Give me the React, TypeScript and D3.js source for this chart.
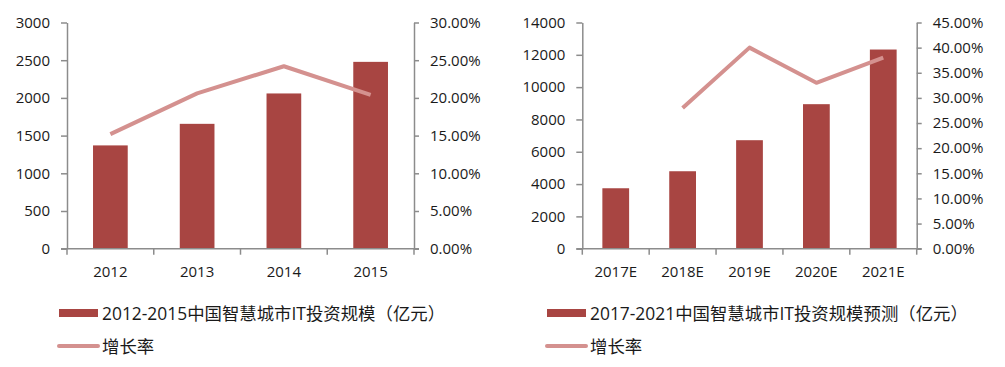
import * as d3 from "d3";
import React, { useEffect, useRef } from "react";

// left panel: 2012-2015 actuals
const years1 = ["2012", "2013", "2014", "2015"];
const scale1 = [1370, 1656, 2059, 2478];
const growth1: (number | null)[] = [15.2, 20.6, 24.2, 20.4];
const leftTicks1 = [0, 500, 1000, 1500, 2000, 2500, 3000];
const rightTicks1 = [0, 5, 10, 15, 20, 25, 30];
const legend1 = "2012-2015中国智慧城市IT投资规模（亿元）";

// right panel: 2017E-2021E forecast
const years2 = ["2017E", "2018E", "2019E", "2020E", "2021E"];
const scale2 = [3741, 4794, 6715, 8945, 12327];
const growth2: (number | null)[] = [null, 28.0, 40.0, 33.0, 38.0];
const leftTicks2 = [0, 2000, 4000, 6000, 8000, 10000, 12000, 14000];
const rightTicks2 = [0, 5, 10, 15, 20, 25, 30, 35, 40, 45];
const legend2 = "2017-2021中国智慧城市IT投资规模预测（亿元）";

const lineLabel = "增长率";

const BAR = "#A84542";
const LINE = "#D4918F";
const AXIS = "#8C8C8C";
const FONT = "'Open Sans', 'Noto Sans CJK SC', sans-serif";

interface IPanel {
  cats: string[];
  bars: number[];
  rates: (number | null)[];
  lt: number[];
  rt: number[];
  legend: string;
  x0: number;
  x1: number;
  legX: number;
}

const panels: IPanel[] = [
  { cats: years1, bars: scale1, rates: growth1, lt: leftTicks1, rt: rightTicks1, legend: legend1, x0: 67, x1: 414, legX: 59 },
  { cats: years2, bars: scale2, rates: growth2, lt: leftTicks2, rt: rightTicks2, legend: legend2, x0: 582.3, x1: 916.7, legX: 547 },
];

const TOP = 22.5;
const BOTTOM = 248.7;

const App: React.FC = () => {
  const ref = useRef<SVGSVGElement>(null);

  useEffect(() => {
    document.body.style.margin = "0";
    const svg = d3.select(ref.current);
    svg.selectAll("*").remove();

    panels.forEach((p) => {
      const g = svg.append("g");
      const x = d3.scaleBand<string>().domain(p.cats).range([p.x0, p.x1]).paddingInner(0.6).paddingOuter(0.3);
      const yL = d3.scaleLinear().domain([0, p.lt[p.lt.length - 1]]).range([BOTTOM, TOP]);
      const yR = d3.scaleLinear().domain([0, p.rt[p.rt.length - 1]]).range([BOTTOM, TOP]);

      // bars
      g.selectAll("rect.bar")
        .data(p.bars)
        .enter()
        .append("rect")
        .attr("x", (_, i) => x(p.cats[i]) as number)
        .attr("y", (d) => yL(d))
        .attr("width", x.bandwidth())
        .attr("height", (d) => BOTTOM - yL(d))
        .attr("fill", BAR);

      // axes
      const left = g
        .append("g")
        .attr("transform", `translate(${p.x0},0)`)
        .call(d3.axisLeft(yL).tickValues(p.lt).tickSize(6).tickSizeOuter(0).tickPadding(11).tickFormat(d3.format("d")));
      const right = g
        .append("g")
        .attr("transform", `translate(${p.x1},0)`)
        .call(
          d3.axisRight(yR).tickValues(p.rt).tickSize(5).tickSizeOuter(0).tickPadding(11)
            .tickFormat((d) => (d as number).toFixed(2) + "%")
        );
      [left, right].forEach((a) => {
        a.select(".domain").attr("stroke", AXIS).attr("stroke-width", 1.5);
        a.selectAll(".tick line").attr("stroke", AXIS).attr("stroke-width", 1.5);
        a.selectAll(".tick text").attr("fill", "#1a1a1a").style("font-family", FONT).style("font-size", "15px");
      });

      // category axis with ticks on band boundaries
      g.append("line")
        .attr("x1", p.x0 - 6).attr("x2", p.x1 + 5)
        .attr("y1", BOTTOM).attr("y2", BOTTOM)
        .attr("stroke", AXIS).attr("stroke-width", 1.5);
      g.selectAll("line.xt")
        .data(d3.range(p.cats.length + 1))
        .enter()
        .append("line")
        .attr("x1", (i) => p.x0 + i * x.step())
        .attr("x2", (i) => p.x0 + i * x.step())
        .attr("y1", BOTTOM).attr("y2", BOTTOM + 6)
        .attr("stroke", AXIS).attr("stroke-width", 1.5);
      g.selectAll("text.xl")
        .data(p.cats)
        .enter()
        .append("text")
        .attr("x", (d) => (x(d) as number) + x.bandwidth() / 2)
        .attr("y", 277)
        .attr("text-anchor", "middle")
        .attr("fill", "#1a1a1a")
        .style("font-family", FONT)
        .style("font-size", "15px")
        .text((d) => d);

      // growth line
      const line = d3
        .line<number | null>()
        .defined((d) => d !== null)
        .x((_, i) => (x(p.cats[i]) as number) + x.bandwidth() / 2)
        .y((d) => yR(d as number));
      g.append("path")
        .attr("d", line(p.rates))
        .attr("fill", "none")
        .attr("stroke", LINE)
        .attr("stroke-width", 4)
        .attr("stroke-linejoin", "round");

      // legend
      const lg = g.append("g").attr("transform", `translate(${p.legX},0)`);
      lg.append("rect").attr("x", 0).attr("y", 309).attr("width", 39).attr("height", 8).attr("fill", BAR);
      lg.append("text").attr("x", 43).attr("y", 319.5).attr("fill", "#1a1a1a")
        .style("font-family", FONT).style("font-size", "17.4px").text(p.legend);
      lg.append("line").attr("x1", 0).attr("x2", 39).attr("y1", 346).attr("y2", 346)
        .attr("stroke", LINE).attr("stroke-width", 4).attr("stroke-linecap", "round");
      lg.append("text").attr("x", 43).attr("y", 352.5).attr("fill", "#1a1a1a")
        .style("font-family", FONT).style("font-size", "17.4px").text(lineLabel);
    });

    return () => {
      svg.selectAll("*").remove();
    };
  }, []);

  return <svg ref={ref} width={1005} height={367} style={{ display: "block", background: "#fff" }} />;
};

export default App;
